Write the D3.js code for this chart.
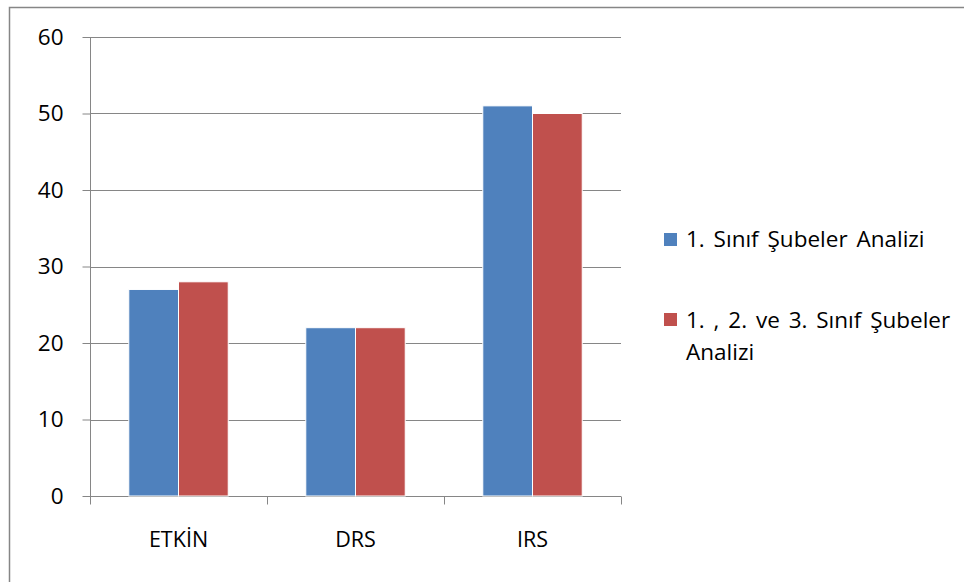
<!DOCTYPE html>
<html><head><meta charset="utf-8">
<script src="https://cdn.jsdelivr.net/npm/d3@7"></script>
<style>body{margin:0;background:#fff;}svg{display:block;}</style>
</head><body>
<script>
const categories = ["ETKİN", "DRS", "IRS"];
const seriesNames = ["1. Sınıf Şubeler Analizi", "1. , 2. ve 3. Sınıf Şubeler Analizi"];
const series1 = [27, 22, 51];
const series2 = [28, 22, 50];
const yTicks = [0, 10, 20, 30, 40, 50, 60];
const colors = ["#4F81BD", "#C0504D"];

(function () {
const W = 964, H = 582;
const svg = d3.select("body").append("svg").attr("width", W).attr("height", H);
const font = "'Open Sans', sans-serif";

svg.append("rect").attr("x", 9.5).attr("y", 7.5).attr("width", W + 10).attr("height", H + 10)
  .attr("fill", "#fff").attr("stroke", "#868686").attr("stroke-width", 1.5);

const pL = 90, pR = 621, pT = 37, pB = 496;
const x = d3.scaleBand().domain(categories).range([pL, pR]);
const xs = d3.scaleBand().domain([0, 1]).range([0, x.bandwidth()]).paddingInner(0).paddingOuter(0.78);
const y = d3.scaleLinear().domain([0, 60]).range([pB, pT]);

const g = svg.append("g");
g.selectAll("line.grid").data(yTicks.filter(d => d > 0)).enter().append("line")
  .attr("x1", pL).attr("x2", pR).attr("y1", d => Math.round(y(d)) + 0.5).attr("y2", d => Math.round(y(d)) + 0.5)
  .attr("stroke", "#868686").attr("stroke-width", 1);

const yAxis = g.append("g").attr("transform", `translate(${pL + 0.5},0)`)
  .call(d3.axisLeft(y).tickValues(yTicks).tickSize(8).tickPadding(19).tickFormat(d3.format("d")));
yAxis.selectAll("line, path").attr("stroke", "#868686");
yAxis.select("path").attr("d", `M0,${pT}V${pB}`);
yAxis.selectAll("text").attr("font-family", font).attr("font-size", 22.5).attr("fill", "#000");

const xAxis = g.append("g").attr("transform", `translate(0,${pB + 0.5})`)
  .call(d3.axisBottom(x).tickSize(0).tickPadding(35));
xAxis.selectAll("path").attr("stroke", "#868686").attr("d", `M${pL},0H${pR}`);
xAxis.selectAll("text").attr("font-family", font).attr("font-size", 21.5).attr("fill", "#000");
const tickPos = [pL, ...categories.map(c => x(c) + x.bandwidth())];
xAxis.selectAll("line.xt").data(tickPos).enter().append("line")
  .attr("x1", d => Math.round(d) + 0.5).attr("x2", d => Math.round(d) + 0.5).attr("y1", 0).attr("y2", 8)
  .attr("stroke", "#868686");

const data = [series1, series2];
data.forEach((vals, si) => {
  g.selectAll(`rect.s${si}`).data(vals).enter().append("rect")
    .attr("x", (d, i) => x(categories[i]) + xs(si))
    .attr("width", xs.bandwidth())
    .attr("y", d => y(d))
    .attr("height", d => y(0) - y(d))
    .attr("fill", colors[si])
    .attr("stroke", "#fff").attr("stroke-width", 1);
});

const leg = svg.append("g");
const legItems = [
  { lines: [seriesNames[0]], sq: 233, base: 247 },
  { lines: ["1. , 2. ve 3. Sınıf Şubeler", "Analizi"], sq: 313, base: 328 }
];
legItems.forEach((it, i) => {
  leg.append("rect").attr("x", 664).attr("y", it.sq).attr("width", 13).attr("height", 13).attr("fill", colors[i]);
  const t = leg.append("text").attr("x", 686).attr("y", it.base).attr("font-family", font)
    .attr("font-size", 22.5).attr("word-spacing", 3).attr("fill", "#000");
  it.lines.forEach((l, j) => t.append("tspan").attr("x", 686).attr("dy", j === 0 ? 0 : 32).text(l));
});
})();
</script>
</body></html>
